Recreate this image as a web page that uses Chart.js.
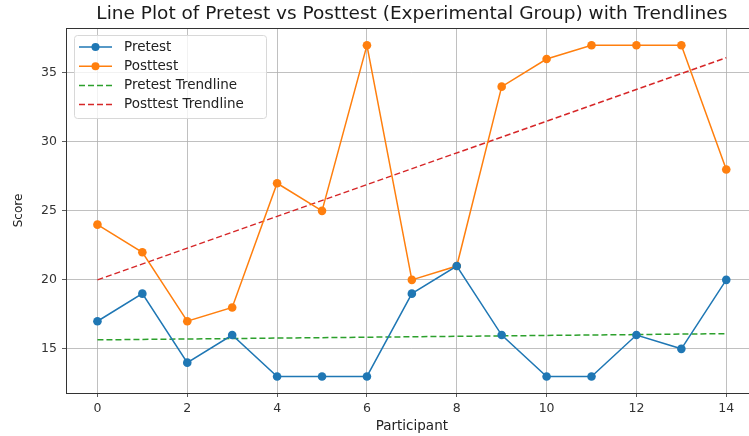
<!DOCTYPE html>
<html>
<head>
<meta charset="utf-8">
<script src="https://cdn.jsdelivr.net/npm/chart.js@4.4.1/dist/chart.umd.min.js"></script>
<style>
  html, body { margin: 0; padding: 0; background: #fff; overflow: hidden; }
  #wrap { width: 762px; height: 436px; }
</style>
</head>
<body>
<div id="wrap"><canvas id="chart" width="762" height="436"></canvas></div>
<script>
// participants 0..14
const participants = [0, 1, 2, 3, 4, 5, 6, 7, 8, 9, 10, 11, 12, 13, 14];
const pretest  = [17, 19, 14, 16, 13, 13, 13, 19, 21, 16, 13, 13, 16, 15, 20];
const posttest = [24, 22, 17, 18, 27, 25, 37, 20, 21, 34, 36, 37, 37, 37, 28];
// trendline ends (at participant 0 and 14)
const trendX = [0, 14];
const pretestTrend  = [15.65, 16.1];
const posttestTrend = [20.0, 36.1];
const xTicks = [0, 2, 4, 6, 8, 10, 12, 14];
const yTicks = [15, 20, 25, 30, 35];

const chartTitle = 'Line Plot of Pretest vs Posttest (Experimental Group) with Trendlines';
const FONT = "'DejaVu Sans', sans-serif";

function points(xs, ys) {
    return xs.map((x, i) => ({ x: x, y: ys[i] }));
}

// title over the plot area + legend inside the plot (matplotlib style)
const innerLegend = {
    id: 'innerLegend',
    afterDraw(chart) {
        const ctx = chart.ctx;
        const a = chart.chartArea;
        ctx.save();

        // title centred over the axes, not the canvas
        ctx.font = '18.5px ' + FONT;
        ctx.fillStyle = '#1a1a1a';
        ctx.textAlign = 'center';
        ctx.textBaseline = 'middle';
        ctx.fillText(chartTitle, (a.left + a.right) / 2, 14);
        ctx.textAlign = 'left';

        const x0 = a.left + 8, y0 = a.top + 7;
        const w = 192, h = 83;
        ctx.fillStyle = 'rgba(255,255,255,0.8)';
        ctx.strokeStyle = '#d8d8d8';
        ctx.lineWidth = 1;
        ctx.beginPath();
        ctx.roundRect(x0 + 0.5, y0 + 0.5, w, h, 3);
        ctx.fill();
        ctx.stroke();
        ctx.font = '13.5px ' + FONT;
        chart.data.datasets.forEach((ds, i) => {
            const y = y0 + 12 + i * 19.2;
            ctx.strokeStyle = ds.borderColor;
            ctx.lineWidth = 1.5;
            ctx.setLineDash(ds.borderDash || []);
            ctx.beginPath();
            ctx.moveTo(x0 + 5, y);
            ctx.lineTo(x0 + 38, y);
            ctx.stroke();
            ctx.setLineDash([]);
            if (ds.pointRadius > 0) {
                ctx.fillStyle = ds.borderColor;
                ctx.beginPath();
                ctx.arc(x0 + 21.5, y, 4, 0, Math.PI * 2);
                ctx.fill();
            }
            ctx.fillStyle = '#222';
            ctx.fillText(ds.label, x0 + 50, y);
        });
        // full frame around the plot
        ctx.strokeStyle = '#333';
        ctx.lineWidth = 1;
        ctx.strokeRect(a.left + 0.5, a.top + 0.5, a.right - a.left, a.bottom - a.top);
        ctx.restore();
    }
};

function init() {
    const ctx = document.getElementById('chart').getContext('2d');
    new Chart(ctx, {
        type: 'line',
        data: {
            datasets: [
                {
                    label: 'Pretest',
                    data: points(participants, pretest),
                    borderColor: '#1f77b4',
                    backgroundColor: '#1f77b4',
                    borderWidth: 1.5,
                    pointRadius: 4.3,
                    pointBorderWidth: 0
                },
                {
                    label: 'Posttest',
                    data: points(participants, posttest),
                    borderColor: '#ff7f0e',
                    backgroundColor: '#ff7f0e',
                    borderWidth: 1.5,
                    pointRadius: 4.3,
                    pointBorderWidth: 0
                },
                {
                    label: 'Pretest Trendline',
                    data: points(trendX, pretestTrend),
                    borderColor: '#2ca02c',
                    borderWidth: 1.5,
                    borderDash: [6, 3],
                    pointRadius: 0
                },
                {
                    label: 'Posttest Trendline',
                    data: points(trendX, posttestTrend),
                    borderColor: '#d62728',
                    borderWidth: 1.5,
                    borderDash: [6, 3],
                    pointRadius: 0
                }
            ]
        },
        options: {
            responsive: false,
            animation: false,
            layout: { padding: { left: 0, right: 2, top: 28, bottom: 0 } },
            plugins: {
                legend: { display: false },
                tooltip: { enabled: false },
                title: { display: false }
            },
            scales: {
                x: {
                    type: 'linear',
                    min: -0.7,
                    max: 14.7,
                    afterBuildTicks: s => { s.ticks = xTicks.map(v => ({ value: v })); },
                    afterFit: s => { s.height = 43; },
                    grid: { color: '#b0b0b0', lineWidth: 0.8, tickLength: 4, tickColor: '#333' },
                    border: { display: false },
                    ticks: { color: '#333', font: { family: FONT, size: 12.5 }, padding: 4, maxRotation: 0 },
                    title: { display: true, text: 'Participant', color: '#222', font: { family: FONT, size: 13.5 }, padding: { top: 0, bottom: 1 } }
                },
                y: {
                    min: 11.8,
                    max: 38.25,
                    afterBuildTicks: s => { s.ticks = yTicks.map(v => ({ value: v })); },
                    afterFit: s => { s.width = 66; },
                    grid: { color: '#b0b0b0', lineWidth: 0.8, tickLength: 4, tickColor: '#333' },
                    border: { display: false },
                    ticks: { color: '#333', font: { family: FONT, size: 12.5 }, padding: 5 },
                    title: { display: true, text: 'Score', color: '#222', font: { family: FONT, size: 12 }, padding: { top: 12, bottom: 0 } }
                }
            }
        },
        plugins: [innerLegend]
    });
}

window.onload = init;
</script>
</body>
</html>
